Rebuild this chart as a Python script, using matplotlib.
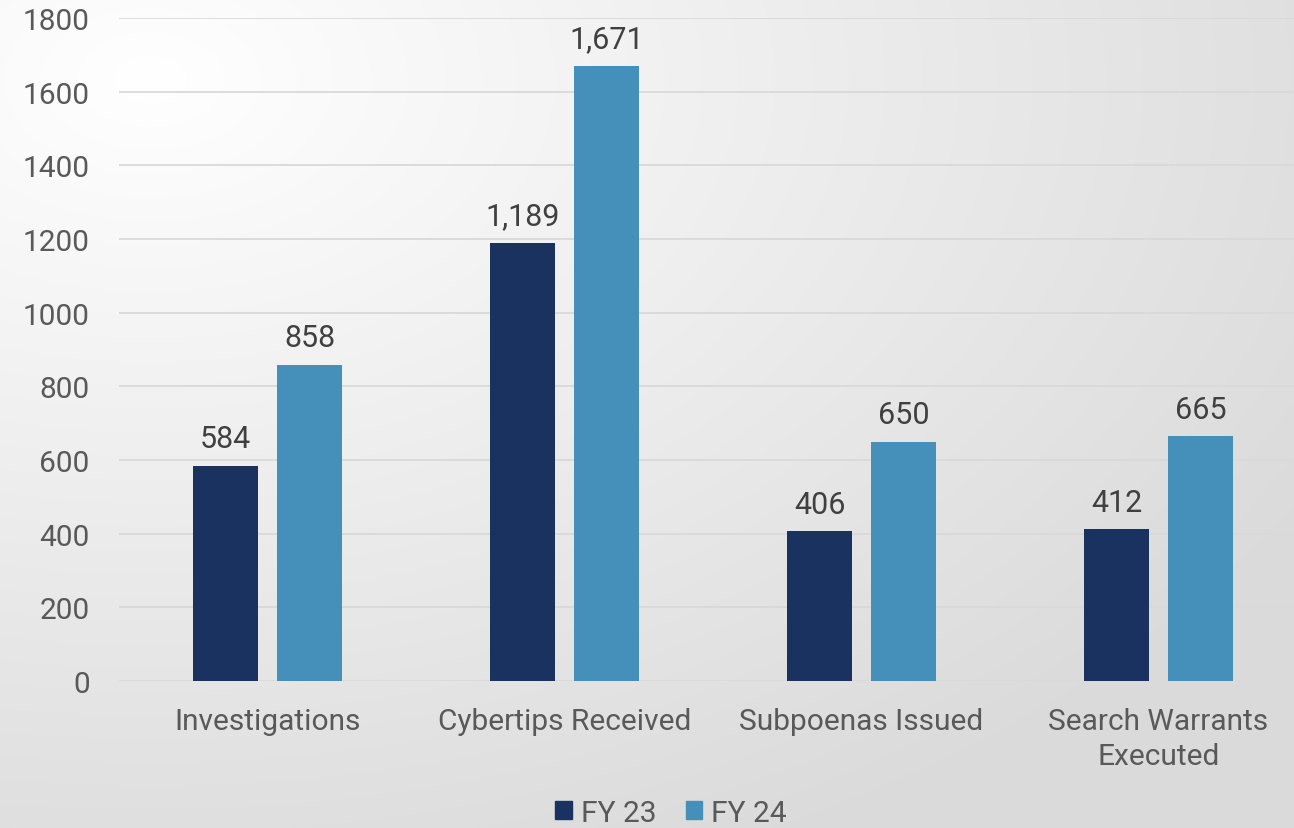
import numpy as np
import matplotlib
matplotlib.use("Agg")
import matplotlib.pyplot as plt
from matplotlib.patches import Patch

categories = ["Investigations", "Cybertips Received", "Subpoenas Issued", "Search Warrants\nExecuted"]
fy23 = [584, 1189, 406, 412]
fy24 = [858, 1671, 650, 665]
series_names = ["FY 23", "FY 24"]
yticks = [0, 200, 400, 600, 800, 1000, 1200, 1400, 1600, 1800]

DARK = "#1a325f"
LIGHT = "#4490ba"
TEXT = "#595959"
GRID = "#d9d9d9"

plt.rcParams["font.family"] = ["Roboto", "DejaVu Sans"]

W, H = 1294, 829
fig = plt.figure(figsize=(W / 100, H / 100), dpi=100)

# background gradient: white top-left fading to light grey
bg = fig.add_axes([0, 0, 1, 1], zorder=-10)
yy, xx = np.mgrid[0:H, 0:W]
d = np.sqrt(((xx - 150) / W) ** 2 + ((yy - 80) / H) ** 2)
d = np.clip(d / 1.05, 0, 1)
shade = 1.0 - (1.0 - 0.855) * d
bg.imshow(np.dstack([shade, shade, shade]), aspect="auto", extent=[0, 1, 0, 1])
bg.axis("off")

ax = fig.add_axes([119 / W, 147 / H, 1188 / W, 663 / H])
ax.patch.set_alpha(0)

x = np.arange(len(categories))
bw = 0.222
off = 0.1414
b1 = ax.bar(x - off, fy23, bw, color=DARK, zorder=3)
b2 = ax.bar(x + off, fy24, bw, color=LIGHT, zorder=3)

for bars, vals in ((b1, fy23), (b2, fy24)):
    for r, v in zip(bars, vals):
        ax.annotate(f"{v:,}", (r.get_x() + r.get_width() / 2, v),
                    xytext=(0, 9), textcoords="offset points",
                    ha="center", va="bottom", fontsize=22, color="#404040")

ax.set_xlim(-0.5, len(categories) - 0.5)
ax.set_ylim(0, 1800)
ax.set_yticks(yticks)
ax.set_xticks(x)
ax.set_xticklabels(categories, linespacing=1.3)
ax.tick_params(axis="both", length=0, labelsize=21.5, labelcolor=TEXT)
ax.tick_params(axis="x", pad=19)
ax.tick_params(axis="y", pad=21)
ax.grid(axis="y", color=GRID, linewidth=1.3, zorder=0)
for s in ax.spines.values():
    s.set_visible(False)

handles = [Patch(color=DARK), Patch(color=LIGHT)]
fig.legend(handles, series_names, loc="center", bbox_to_anchor=(671 / W, 15 / H),
           ncol=2, frameon=False, fontsize=21.5, labelcolor=TEXT,
           handlelength=0.55, handleheight=0.55, handletextpad=0.3, columnspacing=1.0,
           borderpad=0.2)

fig.savefig("out.png", dpi=100)
